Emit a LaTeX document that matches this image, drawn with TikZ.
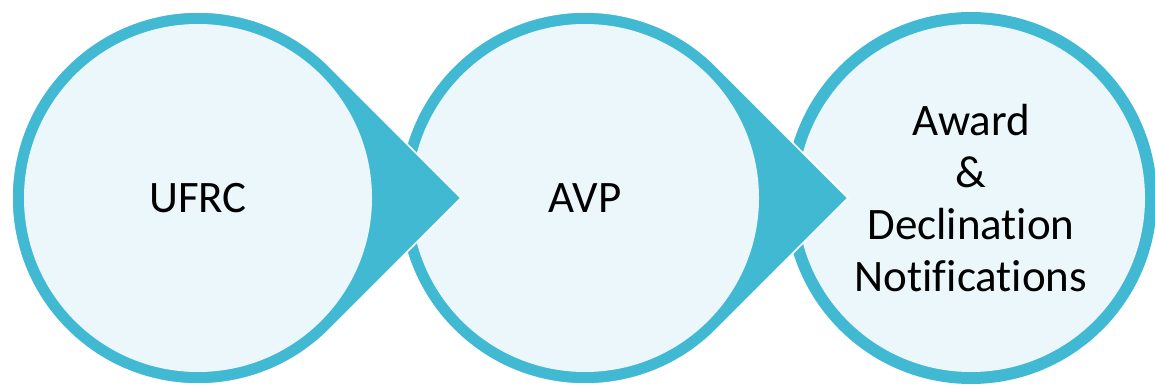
\documentclass[tikz,border=0pt]{standalone}
\usepackage{fontspec}
\setmainfont{Carlito}[Ligatures=CommonOff]
\definecolor{stageblue}{HTML}{42B9D3}
\definecolor{stagefill}{HTML}{EBF7FA}
\tikzset{
	ring/.style={fill=stageblue,draw=white,line width=1.5pt},
	stage/.style={shape=circle,fill=stagefill,minimum size=348pt,inner sep=0pt,align=center,font=\fontsize{45}{52}\selectfont}
}

\begin{document}
\begin{tikzpicture}[x=1pt,y=1pt]
\useasboundingbox (0,-187) rectangle (1155,198);
% drawn right to left, so each pointer lies over the next circle
\foreach \i/\x/\txt in {3/971/{Award\\\&\\Declination\\Notifications},2/585/{AVP},1/198/{UFRC}} {
	\ifnum \i<3
		\filldraw[ring] (\x,0) ++(45:186) -- ++(315:186) -- ++(225:186) arc[start angle=-45,end angle=-315,radius=186] -- cycle;
	\else
		\fill[stageblue] (\x,0) circle [radius=186];
	\fi
	\node[stage] (s\i) at (\x,0) {\txt};
};
\end{tikzpicture}
\end{document}
